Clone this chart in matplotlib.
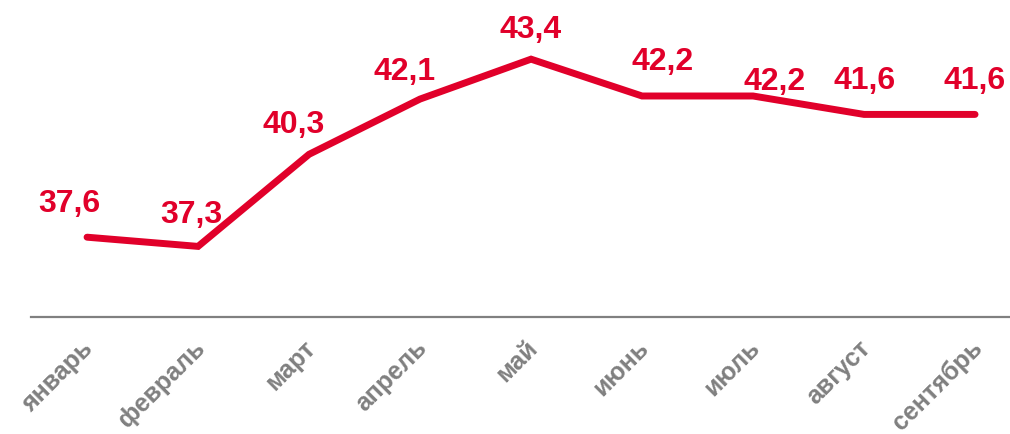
import matplotlib
matplotlib.use('Agg')
import matplotlib.pyplot as plt
from matplotlib.transforms import ScaledTranslation

months = ['январь', 'февраль', 'март', 'апрель', 'май', 'июнь', 'июль', 'август', 'сентябрь']
values = [37.6, 37.3, 40.3, 42.1, 43.4, 42.2, 42.2, 41.6, 41.6]
value_labels = ['37,6', '37,3', '40,3', '42,1', '43,4', '42,2', '42,2', '41,6', '41,6']

# label offsets in points (dx, dy above point to baseline)
label_dx = [-12.6, -4.7, -10.8, -11.5, -0.7, 14.8, 15.8, 0.7, 0]
label_dy = [18.7, 17.3, 15.8, 14.4, 15.8, 19.4, 5.0, 18.7, 18.7]

red = '#e1002a'
grey = '#808080'

plt.rcParams['font.family'] = ['Liberation Sans', 'DejaVu Sans']

fig = plt.figure(figsize=(10.1, 4.35), dpi=100)
ax = fig.add_axes([31 / 1010, 117 / 435, 979 / 1010, 318 / 435])

x = list(range(len(months)))
ax.plot(x, values, color=red, lw=5, solid_capstyle='round', solid_joinstyle='miter')

for i, v in enumerate(values):
    ax.annotate(value_labels[i], (i, v), xytext=(label_dx[i], label_dy[i]),
                textcoords='offset points', ha='center', va='baseline',
                fontsize=23, fontweight='bold', color=red)

ax.set_xlim(-0.505, 8.315)
ax.set_ylim(35, 45.36)

ax.set_xticks(x)
ax.set_xticklabels(months, rotation=45, ha='right', rotation_mode='anchor',
                   fontsize=18, fontweight='bold', color=grey)
ax.tick_params(axis='x', length=0, pad=13)
shift = ScaledTranslation(-4 / 72, 0, fig.dpi_scale_trans)
for lbl in ax.get_xticklabels():
    lbl.set_transform(lbl.get_transform() + shift)
ax.set_yticks([])

for s in ['top', 'right', 'left']:
    ax.spines[s].set_visible(False)
ax.spines['bottom'].set_color(grey)
ax.spines['bottom'].set_linewidth(1.6)

fig.savefig('out.png', dpi=100)
